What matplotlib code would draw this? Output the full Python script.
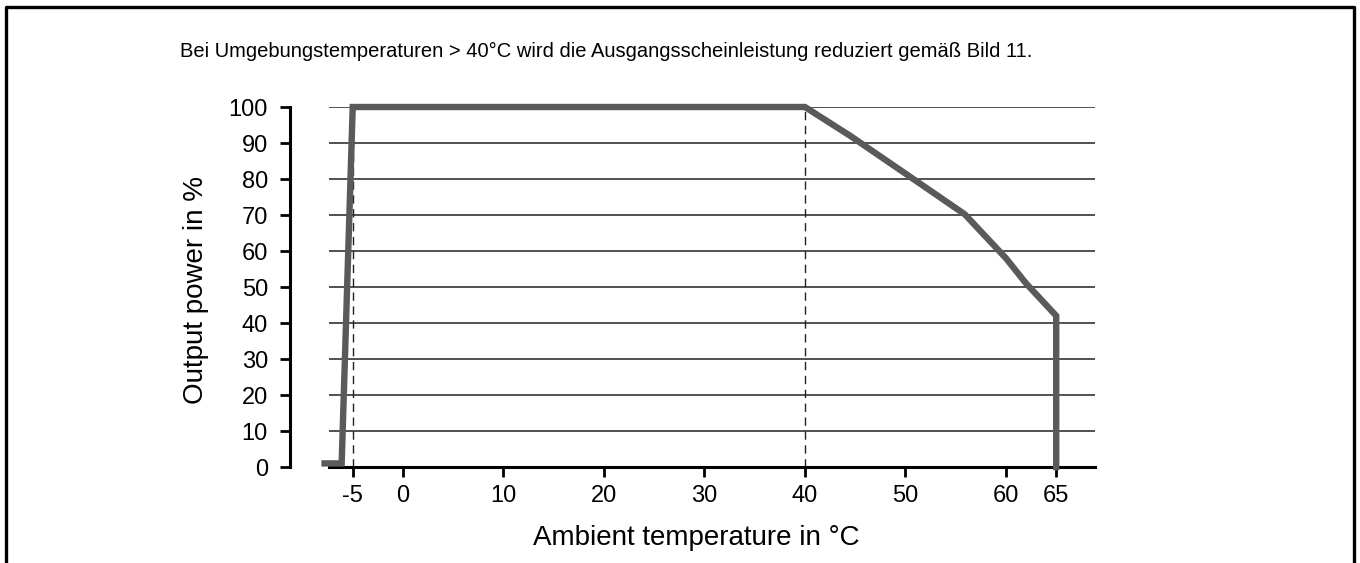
import matplotlib
matplotlib.use("Agg")
import matplotlib.pyplot as plt
from matplotlib.lines import Line2D

plt.rcParams['font.family'] = ['Liberation Sans', 'DejaVu Sans']
plt.rcParams['axes.unicode_minus'] = False

# derating curve
temps = [-7.8, -6.1, -5, 40, 44.5, 50, 55.9, 60, 62, 65, 65]
power = [1, 1, 100, 100, 92, 81.5, 70.2, 58, 51, 42, 0]
marker_temps = [-5, 40]
x_ticks = [-5, 0, 10, 20, 30, 40, 50, 60, 65]
y_ticks = [0, 10, 20, 30, 40, 50, 60, 70, 80, 90, 100]
note = "Bei Umgebungstemperaturen > 40°C wird die Ausgangsscheinleistung reduziert gemäß Bild 11."

W, H = 1360, 563
fig = plt.figure(figsize=(W / 100, H / 100), dpi=100)
ax = fig.add_axes([329 / W, 1 - 467 / H, (1095 - 329) / W, (467 - 107) / H])

ax.set_xlim(-7.36, 68.86)
ax.set_ylim(0, 100)

# horizontal grid
for v in y_ticks[1:]:
    ax.axhline(v, color='#222222', lw=1.1, zorder=1)

# dashed markers
for t in marker_temps:
    ax.plot([t, t], [0, 100], color='#222222', lw=1.0, ls=(0, (6, 4)), zorder=2)

ax.plot(temps, power, color='#5a5a5a', lw=4.6, solid_joinstyle='miter', clip_on=False, zorder=3)

ax.spines['top'].set_visible(False)
ax.spines['right'].set_visible(False)
ax.spines['left'].set_position(('outward', 28))
ax.spines['left'].set_linewidth(2.2)
ax.spines['bottom'].set_linewidth(2.2)

ax.set_xticks(x_ticks)
ax.set_xticklabels([str(t) for t in x_ticks])
ax.set_yticks(y_ticks)
ax.tick_params(axis='both', labelsize=17, width=2, length=7, color='black')
ax.tick_params(axis='y', pad=9)
ax.tick_params(axis='x', pad=6)

fig.text(196 / W, 1 - 290 / H, "Output power in %", rotation=90, fontsize=20,
         ha='center', va='center')
fig.text(696 / W, 1 - 538 / H, "Ambient temperature in °C", fontsize=20,
         ha='center', va='center')
fig.text(180 / W, 1 - 57 / H, note, fontsize=14.5, ha='left', va='baseline')

# page frame
fig.add_artist(Line2D([6 / W, 6 / W, 1354 / W, 1354 / W], [-0.05, 1 - 7 / H, 1 - 7 / H, -0.05],
                      color='black', lw=2.4, transform=fig.transFigure))

fig.savefig("out.png", dpi=100)
